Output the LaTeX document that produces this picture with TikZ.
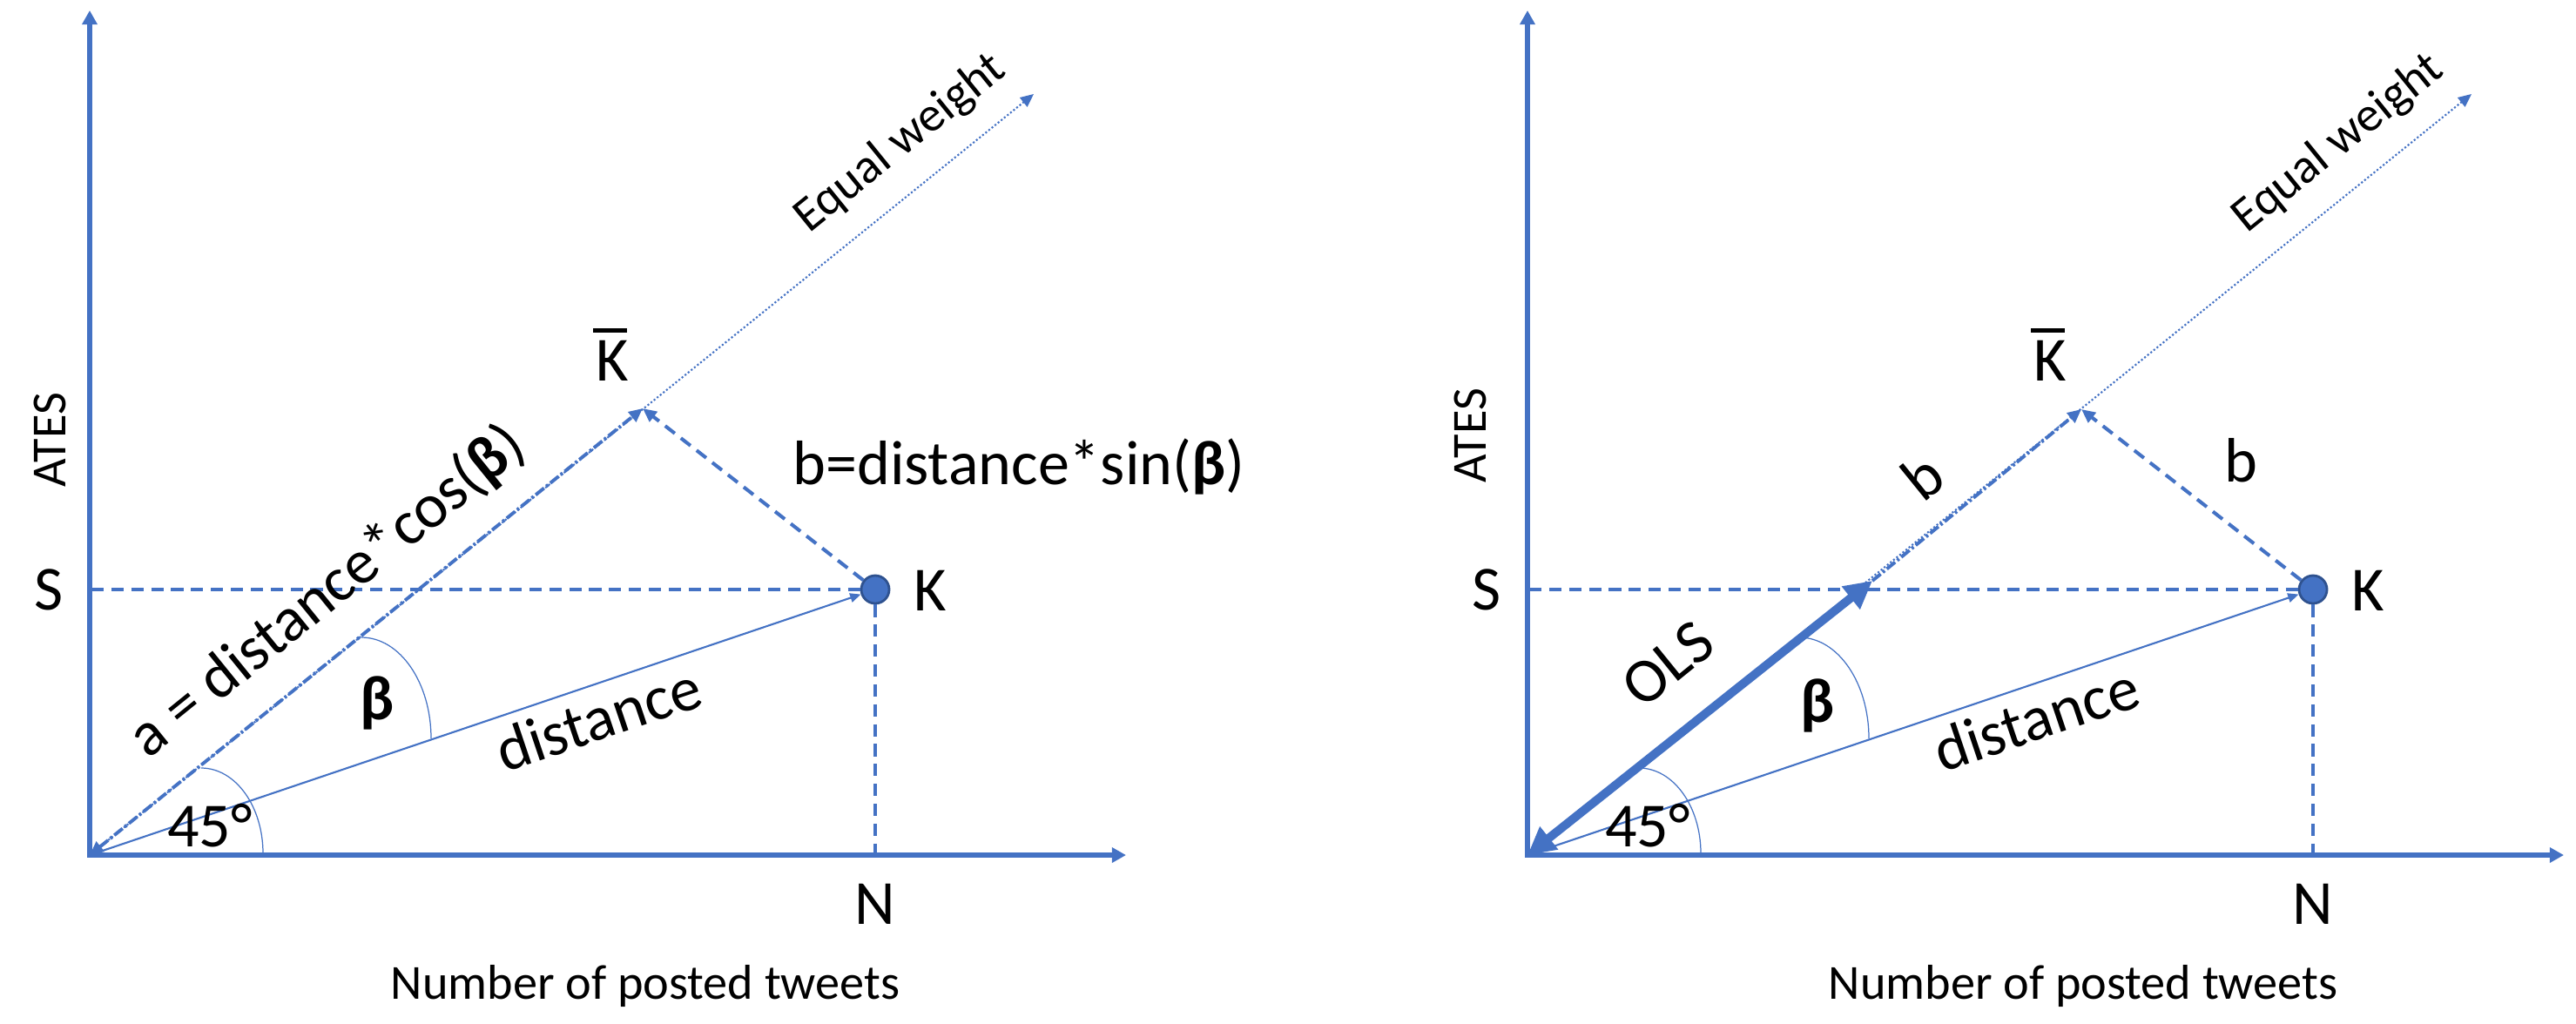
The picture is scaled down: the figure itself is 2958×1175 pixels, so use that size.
\documentclass[tikz,border=0pt]{standalone}
\usepackage{fontspec}
\setmainfont{Carlito}
\usetikzlibrary{arrows.meta}
\definecolor{ob}{HTML}{4472C4}
\definecolor{obd}{HTML}{2F528F}
\newcommand{\mykbar}{\setbox0\hbox{K}\rlap{\hspace{-0.04em}\raisebox{\dimexpr\ht0+2.6pt\relax}{\rule{\dimexpr\wd0+0.02em\relax}{1.3pt}}}\box0}
\begin{document}
\begin{tikzpicture}[x=0.01cm,y=-0.01cm,
  axisl/.style={ob, line width=1.7pt, line join=miter},
  dsh/.style={ob, line width=1.15pt, dash pattern=on 4pt off 2.5pt},
  dshdot/.style={ob, line width=1.1pt, dash pattern=on 3.5pt off 0.9pt on 0.8pt off 0.9pt},
  dotl/.style={ob, line width=0.6pt, dash pattern=on 0.6pt off 0.7pt},
  thinl/.style={ob, line width=0.6pt},
  arcl/.style={ob, line width=0.35pt},
  olsl/.style={ob, line width=2.8pt, {Triangle[length=9pt,width=9pt]}-{Triangle[length=9pt,width=9pt]}},
  kdot/.style={circle, fill=ob, draw=obd, line width=0.8pt, minimum size=0.32cm, inner sep=0pt},
  big/.style={font=\fontsize{20.5}{24}\selectfont, inner sep=0pt},
  small/.style={font=\fontsize{16}{19}\selectfont, inner sep=0pt}
]
\useasboundingbox (0,0) rectangle (2958,1175);
\tikzset{
  axtip/.tip={Triangle[length=4.6pt,width=4.8pt]},
  hd/.tip={Triangle[length=4.5pt,width=4pt]},
  sm/.tip={Triangle[length=3.5pt,width=3pt]},
  ew/.tip={Triangle[length=4.3pt,width=3.8pt]}
}
% ---------------- left panel ----------------
\coordinate (LO) at (103,982);
\coordinate (LY) at (103,12);
\coordinate (LX) at (1293,982);
\coordinate (LEW) at (1187,108);
\coordinate (LKb) at (738,469);
\coordinate (LSs) at (105,677);
\coordinate (LNb) at (1005,980);
\node[kdot] (LK) at (1005,677) {};

\draw[axisl, axtip-axtip] (LY) -- (LO) -- (LX);
\draw[dotl, -ew] (LO) -- (LEW);
\draw[dshdot, hd-hd] (LO) -- (LKb);
\draw[dsh] (LSs) -- (LK);
\draw[dsh] (LK) -- (LNb);
\draw[dsh, -hd] (LK) -- (LKb);
\draw[thinl, -sm] (LO) -- (LK);
\draw[arcl] (231,882) arc[start angle=-90, end angle=0, x radius=71, y radius=98];
\draw[arcl] (415,732) arc[start angle=-90, end angle=0, x radius=80, y radius=116];

\node[small, rotate=90] (LATES) at (57,505) {ATES};
\node[big] (LSl) at (56,677) {S};
\node[big] (LKl) at (1068,678) {K};
\node[big] (LNl) at (1005,1038) {N};
\node[big, anchor=base] (LKbl) at (703,437) {\mykbar};
\node[small] (LXl) at (741,1132) {Number of posted tweets};
\node[small, rotate=39] (LEWl) at (1034,165) {Equal weight};
\node[big, rotate=39] (Lal) at (376,680) {a = distance*cos(\textbf{β})};
\node[big] (Lbl) at (1170,536) {b=distance*sin(\textbf{β})};
\node[big] (Lbeta) at (433,807) {\textbf{β}};
\node[big, rotate=18.6] (Ldist) at (687,825) {distance};
\node[big] (L45) at (241,948) {45°};

% ---------------- right panel ----------------
\coordinate (RO) at (1754,982);
\coordinate (RY) at (1754,12);
\coordinate (RX) at (2944,982);
\coordinate (REW) at (2838,108);
\coordinate (RKb) at (2390,470);
\coordinate (ROt) at (2150,667);
\coordinate (RSs) at (1756,677);
\coordinate (RNb) at (2656,980);
\node[kdot] (RK) at (2656,677) {};

\draw[axisl, axtip-axtip] (RY) -- (RO) -- (RX);
\draw[dotl, -ew] (RO) -- (REW);
\draw[dshdot, -hd] (ROt) -- (RKb);
\draw[dsh] (RSs) -- (RK);
\draw[dsh] (RK) -- (RNb);
\draw[dsh, -hd] (RK) -- (RKb);
\draw[thinl, -sm] (RO) -- (RK);
\draw[olsl] (RO) -- (ROt);
\draw[arcl] (1882,882) arc[start angle=-90, end angle=0, x radius=71, y radius=98];
\draw[arcl] (2066,732) arc[start angle=-90, end angle=0, x radius=80, y radius=116];

\node[small, rotate=90] (RATES) at (1688,500) {ATES};
\node[big] (RSl) at (1707,677) {S};
\node[big] (RKl) at (2719,678) {K};
\node[big] (RNl) at (2656,1038) {N};
\node[big, anchor=base] (RKbl) at (2354,437) {\mykbar};
\node[small] (RXl) at (2392,1132) {Number of posted tweets};
\node[small, rotate=39] (REWl) at (2685,165) {Equal weight};
\node[big, rotate=39] (Rb1) at (2208,547) {b};
\node[big] (Rb2) at (2573,529) {b};
\node[big, rotate=39] (ROLS) at (1915,763) {OLS};
\node[big] (Rbeta) at (2087,810) {\textbf{β}};
\node[big, rotate=18.6] (Rdist) at (2338,825) {distance};
\node[big] (R45) at (1892,948) {45°};
\end{tikzpicture}
\end{document}
